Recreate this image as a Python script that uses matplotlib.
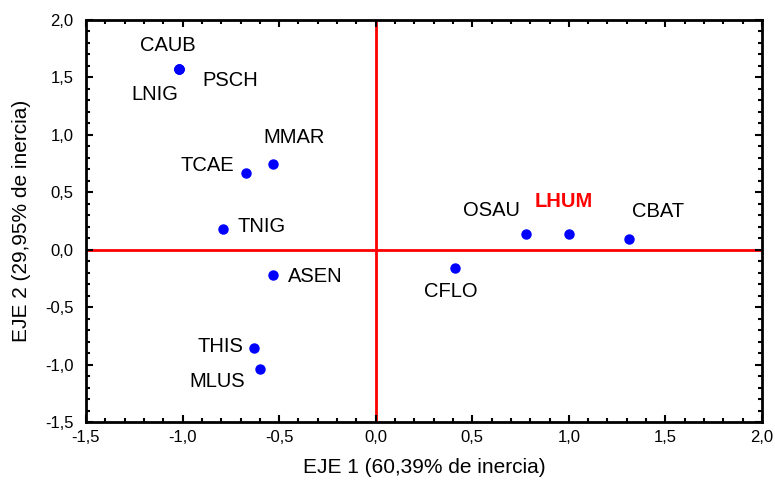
import numpy as np
import matplotlib.pyplot as plt
from matplotlib.ticker import MultipleLocator, FuncFormatter

plt.rcParams["font.family"] = ["Liberation Sans", "DejaVu Sans"]

# Species scores on the first two axes
species = ["CAUB", "PSCH", "LNIG", "MMAR", "TCAE", "TNIG", "ASEN",
           "THIS", "MLUS", "CFLO", "OSAU", "LHUM", "CBAT"]
eje1 = [-1.02, -1.02, -1.02, -0.53, -0.67, -0.79, -0.53,
        -0.63, -0.60, 0.41, 0.78, 1.00, 1.31]
eje2 = [1.57, 1.57, 1.57, 0.75, 0.67, 0.18, -0.22,
        -0.86, -1.04, -0.16, 0.14, 0.14, 0.09]
highlight = "LHUM"

# label offsets in points
offsets = {
    "CAUB": (-8, 17), "PSCH": (37, -8), "LNIG": (-17, -18),
    "MMAR": (15, 19), "TCAE": (-28, 5), "TNIG": (28, 1.5),
    "ASEN": (30, -1), "THIS": (-24, 1.5), "MLUS": (-31, -9),
    "CFLO": (-3, -17), "OSAU": (-25, 17), "LHUM": (-4, 23),
    "CBAT": (21, 20),
}

fig = plt.figure(figsize=(7.75, 4.83), dpi=100)
ax = fig.add_axes([86 / 775, 1 - 422 / 483, 676 / 775, 402 / 483])

ax.axhline(0, color="red", lw=2, zorder=1)
ax.axvline(0, color="red", lw=2, zorder=1)

ax.plot(eje1, eje2, "o", color="blue", ms=6.5, zorder=3)

for name, x, y in zip(species, eje1, eje2):
    color = "red" if name == highlight else "black"
    weight = "bold" if name == highlight else "normal"
    ax.annotate(name, (x, y), xytext=offsets[name], textcoords="offset points",
                ha="center", va="center", fontsize=14.5, color=color,
                fontweight=weight)

ax.set_xlim(-1.5, 2.0)
ax.set_ylim(-1.5, 2.0)
ax.xaxis.set_major_locator(MultipleLocator(0.5))
ax.yaxis.set_major_locator(MultipleLocator(0.5))
ax.xaxis.set_minor_locator(MultipleLocator(0.1))
ax.yaxis.set_minor_locator(MultipleLocator(0.1))
comma = FuncFormatter(lambda v, p: f"{v:.1f}".replace(".", ",").replace("-0,0", "0,0"))
ax.xaxis.set_major_formatter(comma)
ax.yaxis.set_major_formatter(comma)

ax.tick_params(which="both", direction="in", top=True, right=True,
               width=1.5, labelsize=12)
ax.tick_params(which="major", length=5, pad=6)
ax.tick_params(axis="y", which="major", pad=9)
ax.tick_params(which="minor", length=3)
for s in ax.spines.values():
    s.set_linewidth(2)

ax.set_xlabel("EJE 1 (60,39% de inercia)", fontsize=15, labelpad=9)
ax.set_ylabel("EJE 2 (29,95% de inercia)", fontsize=15, labelpad=10)

plt.savefig("out.png", dpi=100)
